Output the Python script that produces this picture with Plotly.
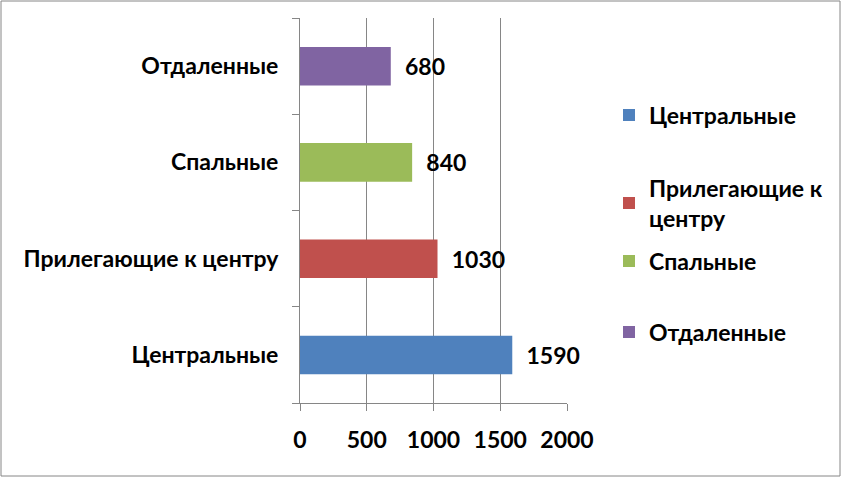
import plotly.graph_objects as go

categories = ["Центральные", "Прилегающие к центру", "Спальные", "Отдаленные"]
legend_names = ["Центральные", "Прилегающие к<br>центру", "Спальные", "Отдаленные"]
values = [1590, 1030, 840, 680]
colors = ["#4F81BD", "#C0504D", "#9BBB59", "#8064A2"]
x_ticks = [0, 500, 1000, 1500, 2000]

W, H = 842, 478
L, R, T, B = 300, 275, 18, 75
pw, ph = W - L - R, H - T - B

FONT = dict(family="Lato, Open Sans, sans-serif", size=23, color="#000000", weight="bold")

fig = go.Figure()
legend_keys = ["legend", "legend2", "legend3", "legend4"]
legend_px_y = [115, 203, 261, 332]
for cat, name, val, col, lk in zip(categories, legend_names, values, colors, legend_keys):
    fig.add_trace(go.Bar(
        y=[cat], x=[val], orientation="h", name=name,
        marker=dict(color=col, line=dict(width=0)),
        text=[val], texttemplate="  %{x}", textposition="outside",
        textfont=FONT, cliponaxis=False, legend=lk,
    ))

layout_legends = {}
for lk, py in zip(legend_keys, legend_px_y):
    layout_legends[lk] = dict(
        x=(609 - L) / pw, xanchor="left",
        y=(H - B - py) / ph, yanchor="middle",
        font=FONT, bgcolor="rgba(0,0,0,0)", itemwidth=30,
    )

fig.update_layout(
    width=W, height=H,
    margin=dict(l=L, r=R, t=T, b=B, autoexpand=False),
    paper_bgcolor="white", plot_bgcolor="white",
    barmode="overlay", bargap=0.6,
    font=FONT,
    showlegend=True,
    **layout_legends,
    xaxis=dict(
        range=[0, 2000], tickvals=x_ticks, ticktext=[str(v) for v in x_ticks],
        showgrid=True, gridcolor="#868686", gridwidth=1,
        showline=True, linecolor="#868686", linewidth=1,
        ticks="outside", ticklen=7, tickcolor="#868686",
        ticklabelstandoff=9, zeroline=False, fixedrange=True,
        tickfont=FONT,
    ),
    yaxis=dict(
        type="category", categoryorder="array", categoryarray=categories,
        showgrid=False, showline=True, linecolor="#868686", linewidth=1,
        ticks="outside", ticklen=7, tickcolor="#868686", tickson="boundaries",
        ticklabelstandoff=16, fixedrange=True, tickfont=FONT,
    ),
    shapes=[dict(
        type="rect", xref="paper", yref="paper",
        x0=(1 - L) / pw, x1=(W - 2 - L) / pw,
        y0=(H - B - (H - 2)) / ph, y1=(H - B - 1) / ph,
        line=dict(color="#868686", width=1), fillcolor="rgba(0,0,0,0)", layer="below",
    )],
)

fig.write_html("out.html", config={"displayModeBar": False},
               post_script="document.body.style.margin='0';")
